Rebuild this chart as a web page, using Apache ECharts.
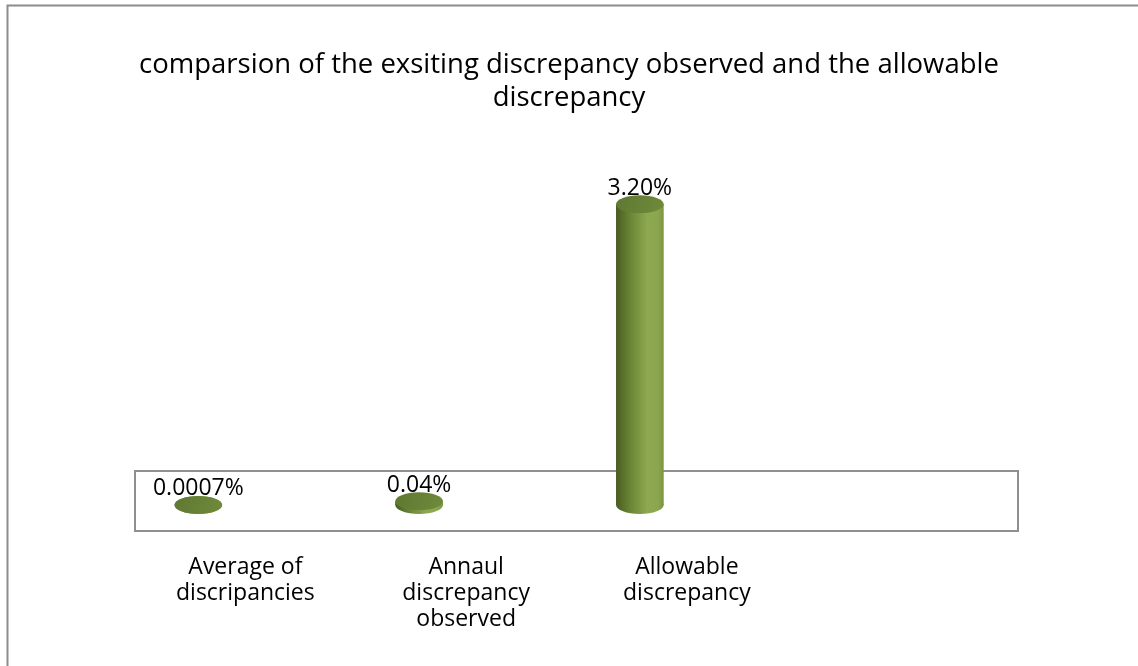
<!DOCTYPE html>
<html>
<head>
<meta charset="utf-8">
<script src="https://cdn.jsdelivr.net/npm/echarts@6/dist/echarts.min.js"></script>
<style>
  html, body { margin: 0; padding: 0; background: #fff; }
  #chart { width: 1138px; height: 666px; }
</style>
</head>
<body>
<div id="chart"></div>
<script>
// Chart data
const categories = ['Average of\ndiscripancies', 'Annaul\ndiscrepancy\nobserved', 'Allowable\ndiscrepancy', ''];
const values = [0.0007, 0.04, 3.2, null];
const labelDecimals = [4, 2, 2, 0];

const FONT = '"Open Sans"';
const chart = echarts.init(document.getElementById('chart'), null, { renderer: 'canvas' });

const sideGradient = () => new echarts.graphic.LinearGradient(0, 0, 1, 0, [
  { offset: 0, color: '#4a5c22' },
  { offset: 0.3, color: '#6a8535' },
  { offset: 0.65, color: '#8ea851' },
  { offset: 0.88, color: '#8ca64f' },
  { offset: 1, color: '#7b9443' }
]);

// 3D-style cylinder: bottom cap, side, top cap and a value label
function renderCylinder(params, api) {
  const idx = api.value(0);
  const val = api.value(1);
  if (val == null || isNaN(val)) return;
  const base = api.coord([idx, 0]);
  const top = api.coord([idx, val]);
  const band = api.size([1, 0])[0];
  const cx = base[0] - band * 0.213;
  const rx = band * 0.108;
  const ry = 9;
  const yb = base[1];
  const yt = top[1];
  const grad = sideGradient();
  return {
    type: 'group',
    children: [
      { type: 'ellipse', shape: { cx: cx, cy: yb, rx: rx, ry: ry }, style: { fill: grad } },
      { type: 'rect', shape: { x: cx - rx, y: yt, width: rx * 2, height: Math.max(0, yb - yt) }, style: { fill: grad } },
      { type: 'ellipse', shape: { cx: cx, cy: yt, rx: rx, ry: ry },
        style: { fill: new echarts.graphic.LinearGradient(0, 0, 1, 1, [
          { offset: 0, color: '#5f7833' },
          { offset: 1, color: '#6f8b3a' }
        ]) } },
      { type: 'text', x: cx, y: yt - 16,
        style: { text: val.toFixed(labelDecimals[idx]) + '%', fill: '#000', font: '23px ' + FONT,
                 align: 'center', verticalAlign: 'middle' } }
    ]
  };
}

// Floor frame drawn around the baseline of the plot
function renderFloor(params, api) {
  const cs = params.coordSys;
  const base = api.coord([0, 0]);
  return {
    type: 'rect',
    shape: { x: cs.x, y: base[1] - 34, width: cs.width, height: 60 },
    style: { fill: 'none', stroke: '#8f8f8f', lineWidth: 2 },
    z2: -1
  };
}

chart.setOption({
  animation: false,
  backgroundColor: '#fff',
  graphic: [{
    type: 'rect', left: 5, top: 3,
    shape: { width: 1300, height: 900 },
    style: { fill: 'none', stroke: '#8c8c8c', lineWidth: 2 }
  }],
  title: {
    text: 'comparsion of the exsiting discrepancy observed and the allowable\ndiscrepancy',
    left: 'center', top: 44,
    textStyle: { fontFamily: FONT, fontSize: 27.5, fontWeight: 'normal', color: '#000', lineHeight: 33 }
  },
  grid: { left: 135, right: 120, top: 129, bottom: 161, containLabel: false },
  xAxis: {
    type: 'category',
    data: categories,
    axisLine: { show: false },
    axisTick: { show: false },
    axisLabel: { interval: 0, margin: 49, fontFamily: FONT, fontSize: 23, color: '#000', lineHeight: 26 }
  },
  yAxis: {
    type: 'value', min: 0, max: 4, interval: 1,
    show: false
  },
  series: [
    {
      type: 'custom',
      renderItem: renderFloor,
      data: [[0, 0]],
      silent: true,
      z: 1
    },
    {
      type: 'custom',
      renderItem: renderCylinder,
      data: values.map((v, i) => [i, v]),
      z: 2
    }
  ]
});
</script>
</body>
</html>
